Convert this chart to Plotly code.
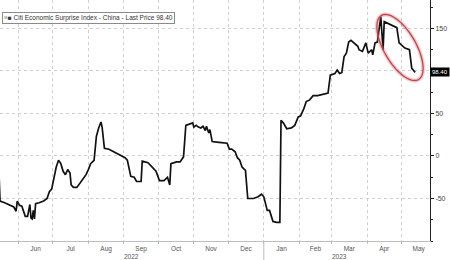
import numpy as np
import plotly.graph_objects as go

dates = [
    "2022-05-15", "2022-05-16", "2022-05-20", "2022-05-24", "2022-05-28", "2022-05-30", "2022-05-31",
    "2022-06-02", "2022-06-04", "2022-06-07", "2022-06-09", "2022-06-11", "2022-06-12", "2022-06-13",
    "2022-06-14", "2022-06-15", "2022-06-16", "2022-06-19", "2022-06-23", "2022-06-26", "2022-06-28",
    "2022-06-30", "2022-07-02", "2022-07-04", "2022-07-06", "2022-07-08", "2022-07-10", "2022-07-12",
    "2022-07-14", "2022-07-16", "2022-07-17", "2022-07-19", "2022-07-22", "2022-07-24", "2022-07-27",
    "2022-07-30", "2022-08-01",
    "2022-08-03", "2022-08-06", "2022-08-08", "2022-08-10", "2022-08-12", "2022-08-13", "2022-08-15",
    "2022-08-19", "2022-08-23", "2022-08-26", "2022-08-29", "2022-09-02", "2022-09-04", "2022-09-07",
    "2022-09-10", "2022-09-12", "2022-09-16", "2022-09-17", "2022-09-22", "2022-09-26", "2022-09-29",
    "2022-10-02", "2022-10-06", "2022-10-09", "2022-10-11", "2022-10-12", "2022-10-17", "2022-10-20",
    "2022-10-23", "2022-10-25", "2022-10-29", "2022-10-31", "2022-11-01", "2022-11-03", "2022-11-05",
    "2022-11-07", "2022-11-09", "2022-11-11", "2022-11-12", "2022-11-14", "2022-11-15", "2022-11-17",
    "2022-11-23", "2022-11-30", "2022-12-02", "2022-12-04", "2022-12-07", "2022-12-09", "2022-12-11",
    "2022-12-13", "2022-12-16", "2022-12-18", "2022-12-23", "2022-12-27", "2022-12-30", "2023-01-01",
    "2023-01-04", "2023-01-06",
    "2023-01-09", "2023-01-12", "2023-01-15", "2023-01-16", "2023-01-18", "2023-01-21", "2023-01-25",
    "2023-01-28", "2023-01-31", "2023-02-02", "2023-02-05", "2023-02-07", "2023-02-10", "2023-02-13",
    "2023-02-17", "2023-02-21", "2023-02-26", "2023-02-28", "2023-03-04", "2023-03-06", "2023-03-08",
    "2023-03-10", "2023-03-12", "2023-03-14", "2023-03-16", "2023-03-18", "2023-03-21", "2023-03-24",
    "2023-03-25", "2023-03-28", "2023-03-31", "2023-04-02", "2023-04-05", "2023-04-06", "2023-04-08",
    "2023-04-10", "2023-04-13", "2023-04-15", "2023-04-16", "2023-04-22", "2023-04-27", "2023-04-29",
    "2023-05-04", "2023-05-08", "2023-05-10", "2023-05-12", "2023-05-13",
]

values = [
    -18, -53, -55, -58, -60, -65, -53,
    -58, -59, -71, -71, -57, -73, -74,
    -64, -74, -56, -55, -53, -50, -42,
    -39, -24, -13, -5, -9, -18, -22,
    -16, -20, -34, -37, -37, -33, -27,
    -22, -16,
    -9, -5, 23, 33, 40, 34, 9,
    8, 5, 3, 0, -2, -5, -24,
    -25, -30, -30, -6, -8, -14, -18,
    -29, -29, -25, -34, -9, -7, -7,
    -1, 36, 38, 39, 34, 36, 34,
    33, 35, 30, 35, 27, 31, 17,
    16, 15, 8, 8, 5, -2, -5,
    -13, -17, -50, -50, -48, -45, -48,
    -64, -64,
    -77, -78, -78, 42, 39, 32, 33,
    36, 46, 47, 56, 64, 66, 71,
    71, 72, 74, 95, 97, 101, 97,
    98, 117, 121, 134, 136, 132, 129,
    125, 123, 133, 121, 125, 119, 133,
    134, 164, 125, 158, 154, 151, 133,
    127, 125, 103, 100, 98.4,
]

y_tickvals = [-50, 0, 50, 100, 150]
y_ticktext = ["-50", "0", "50", "", "150"]
last_price = "98.40"
legend_label = "Citi Economic Surprise Index - China - Last Price 98.40"
year_labels = ["2022", "2023"]
year_label_pos = ["2022-09-08", "2023-03-08"]

W, H = 450, 260
ML, MR, MT, MB = 0, 20, 0, 19
PW, PH = W - ML - MR, H - MT - MB

FONT = "Liberation Sans"

fig = go.Figure()
fig.add_trace(go.Scatter(
    x=dates, y=values, mode="lines",
    line=dict(color="#111111", width=1.7),
    showlegend=False, hoverinfo="skip",
))

fig.update_layout(
    width=W, height=H,
    margin=dict(l=ML, r=MR, t=MT, b=MB),
    paper_bgcolor="white", plot_bgcolor="white",
    font=dict(family=FONT, size=7, color="#444"),
    showlegend=False,
)

fig.update_xaxes(
    type="date",
    range=["2022-05-15 23:00", "2023-05-25 22:00"],
    dtick="M1", tick0="2022-06-01",
    tickformat="%b", ticklabelmode="period",
    showgrid=True, gridcolor="#cfcfcf", griddash="dot", gridwidth=1,
    showline=True, linecolor="#bdbdbd", linewidth=1,
    ticks="outside", ticklen=2, tickcolor="#bdbdbd",
    ticklabelstandoff=-1,
    tickfont=dict(family=FONT, size=6.5, color="#555"),
    zeroline=False,
)

fig.update_yaxes(
    side="right",
    range=[-100, 183.5],
    tickvals=y_tickvals, ticktext=y_ticktext,
    showgrid=True, gridcolor="#cfcfcf", griddash="dot", gridwidth=1,
    showline=True, linecolor="#222", linewidth=1,
    ticks="outside", ticklen=3, tickcolor="#222",
    minor=dict(dtick=25, ticks="outside", ticklen=2, tickcolor="#222", showgrid=False),
    tickfont=dict(family=FONT, size=7, color="#444"),
    zeroline=False,
)

# year separator below axis
fig.add_shape(type="line", xref="x", yref="paper", x0="2023-01-01", x1="2023-01-01",
              y0=-0.08, y1=0, line=dict(color="#bdbdbd", width=1))

# year labels
for lbl, pos in zip(year_labels, year_label_pos):
    fig.add_annotation(x=pos, xref="x", y=1 - 256.5 / PH, yref="paper", text=lbl,
                       showarrow=False, yanchor="middle",
                       font=dict(family=FONT, size=6.5, color="#555"))

# legend box
fig.add_annotation(
    x=2 / PW, xref="paper", y=1 - 12 / PH, yref="paper",
    xanchor="left", yanchor="top", showarrow=False, align="left",
    text="<span style='color:#999'>≡</span>■ " + legend_label,
    font=dict(family=FONT, size=6.5, color="#333"),
    bgcolor="white", bordercolor="#8a8a8a", borderwidth=1, borderpad=1,
)

# last price tag
fig.add_annotation(
    x=1, xref="paper", y=values[-1], yref="y", xanchor="left", yanchor="middle",
    showarrow=False, text=last_price,
    font=dict(family=FONT, size=6, color="white"),
    bgcolor="black", borderpad=1,
)

# red ellipse highlight (pixel geometry -> paper coordinates)
cx, cy, a, b, th = 400.0, 47.5, 37.0, 16.0, np.deg2rad(60)
t = np.linspace(0, 2 * np.pi, 80)
ex = cx + a * np.cos(t) * np.cos(th) - b * np.sin(t) * np.sin(th)
ey = cy + a * np.cos(t) * np.sin(th) + b * np.sin(t) * np.cos(th)
px = ex / PW
py = 1 - ey / PH
path = "M " + " L ".join(f"{x:.4f},{y:.4f}" for x, y in zip(px, py)) + " Z"
fig.add_shape(type="path", xref="paper", yref="paper", path=path,
              line=dict(color="rgba(215,110,120,0.35)", width=4))
fig.add_shape(type="path", xref="paper", yref="paper", path=path,
              line=dict(color="#c8404a", width=1.3))

fig.write_html("out.html")
